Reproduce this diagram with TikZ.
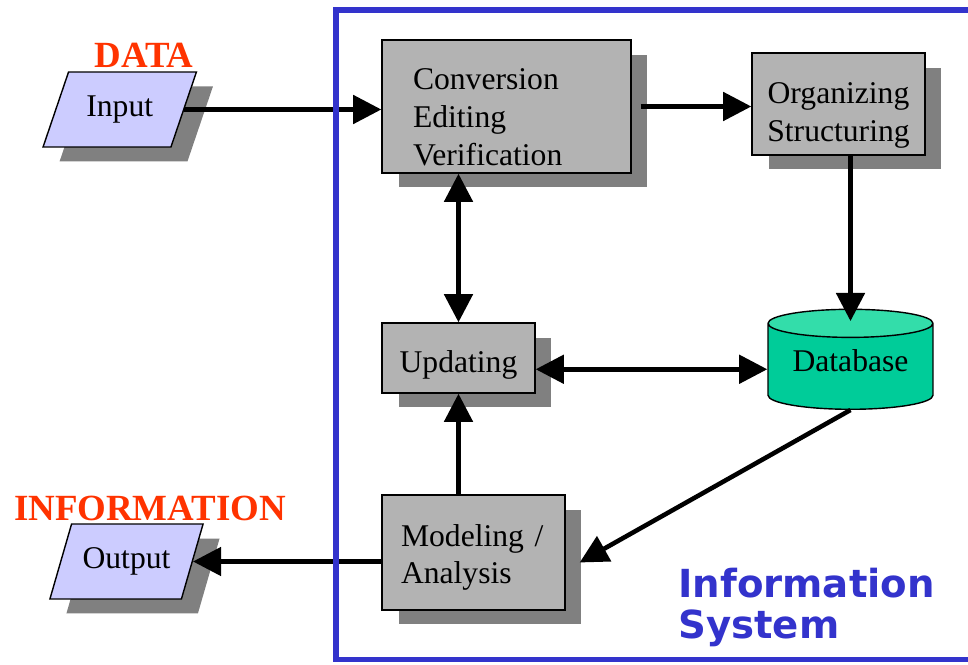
\documentclass[tikz,border=0pt]{standalone}
\usepackage{fontspec}
\setmainfont{Liberation Serif}
\newfontfamily\headfont{DejaVu Sans}
\usetikzlibrary{arrows.meta,positioning,shapes.geometric,shadows,calc}

\definecolor{boxgray}{HTML}{B3B3B3}
\definecolor{shadegray}{HTML}{808080}
\definecolor{iolilac}{HTML}{CCCCFF}
\definecolor{dbgreen}{HTML}{00CC99}
\definecolor{dbtop}{HTML}{33DDAA}
\definecolor{labelred}{HTML}{FF3300}
\definecolor{sysblue}{HTML}{3333CC}

\tikzset{
  boxfont/.style={font=\fontsize{18}{21.5}\selectfont},
  shadowed/.style={drop shadow={shadow xshift=0.33cm, shadow yshift=-0.29cm,
    fill=shadegray, opacity=1}},
  procbox/.style={draw, line width=0.8pt, fill=boxgray, shadowed, boxfont},
  iobox/.style={trapezium, trapezium left angle=63.5, trapezium right angle=116.5,
    trapezium stretches=true, draw, line width=0.8pt, fill=iolilac, shadowed,
    minimum width=3.08cm, minimum height=1.5cm, boxfont},
  iolabel/.style={text=labelred, font=\fontsize{21}{24}\selectfont\bfseries},
  arr/.style={line width=2.6pt, -{Triangle[length=16pt,width=16pt]}},
  biarr/.style={line width=2.6pt, {Triangle[length=16pt,width=16pt]}-{Triangle[length=16pt,width=16pt]}},
}

\begin{document}
\begin{tikzpicture}[x=0.02cm, y=-0.02cm]
\useasboundingbox (0,0) rectangle (968,665);

% processing steps
\node[procbox, minimum width=4.98cm, minimum height=2.66cm, text width=3.74cm,
  inner xsep=0.62cm, align=left, text height=24pt] (conv) at (506.5,106.5) {Conversion\\Editing\\Verification};
\node[procbox, minimum width=3.46cm, minimum height=2.04cm, text width=3cm,
  align=center, text height=25pt] (org) at (838.5,104) {Organizing\\Structuring};
\node[procbox, minimum width=3.06cm, minimum height=1.4cm, text height=20pt] (upd) at (458.5,358) {Updating};
\node[procbox, minimum width=3.66cm, minimum height=2.3cm, text width=2.9cm,
  inner xsep=0.38cm, align=left, text height=18pt] (mod) at (473.5,552.5) {Modeling~/\\Analysis};
\node[cylinder, shape border rotate=90, aspect=0.22, draw, line width=0.8pt,
  cylinder uses custom fill, cylinder body fill=dbgreen, cylinder end fill=dbtop,
  minimum width=3.3cm, minimum height=2cm, boxfont, text depth=10pt,
  anchor=south] (db) at (850.5,410) {Database};

% outside world
\node[iobox] (in) at (119.75,109.5) {Input};
\node[iobox] (out) at (126.5,561.5) {Output};
\node[iolabel] (data) at (144,55.5) {DATA};
\node[iolabel] (info) at (150,508) {INFORMATION};

\draw[arr] (in.east) -- (in.east -| conv.west);
\draw[arr] ($(conv.east)+(9,0)$) -- (conv.east -| org.west);
\draw[arr] (org.south -| db.north) -- ($(db.north)+(0,12.5)$);
\draw[biarr] (conv.south -| upd.north) -- (upd.north);
\draw[biarr] (upd.east |- db.west) -- (db.west);
\draw[arr] (mod.north -| upd.south) -- (upd.south);
\draw[arr] (db.south) -- ($(mod.east)+(14,10)$);
\draw[arr] (mod.west |- out.east) -- (out.east);

% system boundary
\draw[sysblue, line width=3.4pt] (980,10) -| (336,659.5) -- (980,659.5);
\node[text=sysblue, font=\headfont\bfseries\fontsize{22}{23.3}\selectfont, align=left,
  anchor=north west, inner sep=0pt] (sys) at (678,568) {Information\\System};
\end{tikzpicture}
\end{document}
